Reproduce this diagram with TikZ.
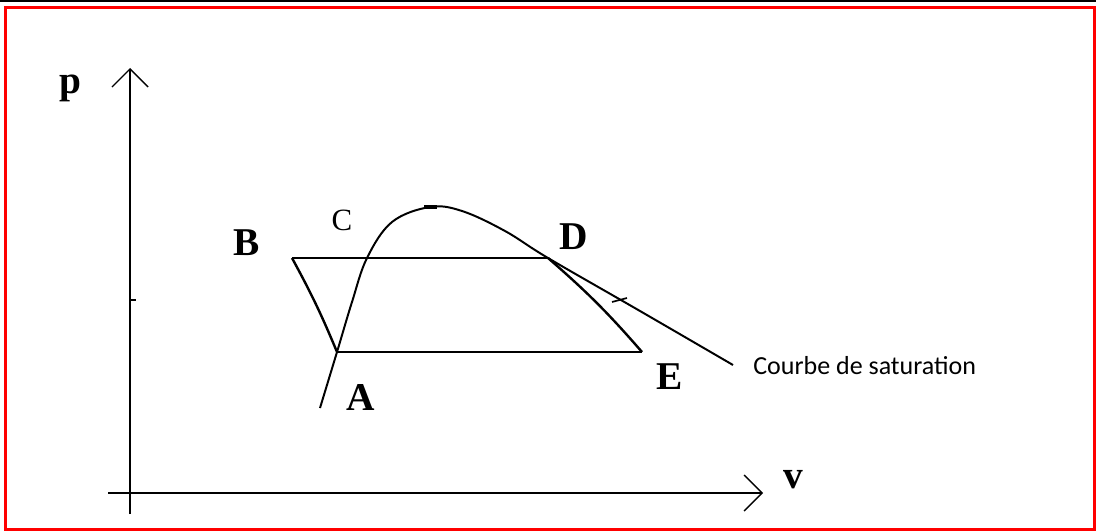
\documentclass[tikz,border=0pt]{standalone}
\usepackage{fontspec}
\setmainfont{Liberation Serif}
\newfontfamily\labelfont{Carlito}
\usetikzlibrary{arrows.meta,calc}
\definecolor{framered}{RGB}{255,0,0}
\tikzset{
  axis/.style   = {line width=1.6pt, -{Straight Barb[length=4.5mm, width=9mm, line width=1pt]}},
  cyc/.style    = {line width=1.7pt},
  satcurve/.style = {line width=1.4pt},
  pt/.style     = {font=\fontsize{28}{30}\selectfont\bfseries, inner sep=0pt},
  ptthin/.style = {font=\fontsize{22}{26}\selectfont, inner sep=0pt},
  note/.style   = {font=\labelfont\fontsize{18.5}{22}\selectfont, inner sep=0pt, anchor=west},
}
\begin{document}
\begin{tikzpicture}[x=0.025cm, y=-0.025cm]
  \useasboundingbox (0,0) rectangle (1096,531);
  % frame
  \fill[white] (0,0) rectangle (1096,531);
  \draw[line width=1.2pt] (0,0.8) -- (1096,0.8);
  \draw[framered, line width=2.6pt] (5.5,7.5) rectangle (1094.5,529.5);
  % axes
  \coordinate (o) at (130,493);
  \draw[axis] (130,514) -- (130,68);
  \draw[axis] (108,493) -- (763,493);
  \draw[line width=1pt] (130,300) -- (136,300);
  \node[pt] (plab) at (70,88) {p};
  \node[pt] (vlab) at (793,480) {v};
  % points of the cycle
  \coordinate (b) at (292,258);
  \coordinate (c) at (367,258);
  \coordinate (d) at (548,258);
  \coordinate (a) at (337,352);
  \coordinate (e) at (642,352);
  \node[pt] (blab) at (247,243) {B};
  \node[ptthin] (clab) at (342,220) {C};
  \node[pt] (dlab) at (574,237) {D};
  \node[pt] (alab) at (361,397) {A};
  \node[pt] (elab) at (670,377) {E};
  % cycle
  \draw[cyc] (b) -- (d);
  \draw[cyc] (a) -- (e);
  \draw[cyc] (b) to[bend left=3] (a);
  \draw[cyc] (d) to[bend left=4] (e);
  % saturation curve
  \draw[satcurve] plot[smooth, tension=0.6] coordinates {(320,408) (a) (352,302) (c) (392,222) (430,207) (462,211) (505,231) (d) (640,311) (733,365)};
  \draw[line width=3pt] (424,207) -- (437,207);
  \draw[line width=1.2pt] (612,302) -- (627,298);
  \node[note] (satlab) at (753,366) {Courbe de saturation};
\end{tikzpicture}
\end{document}
